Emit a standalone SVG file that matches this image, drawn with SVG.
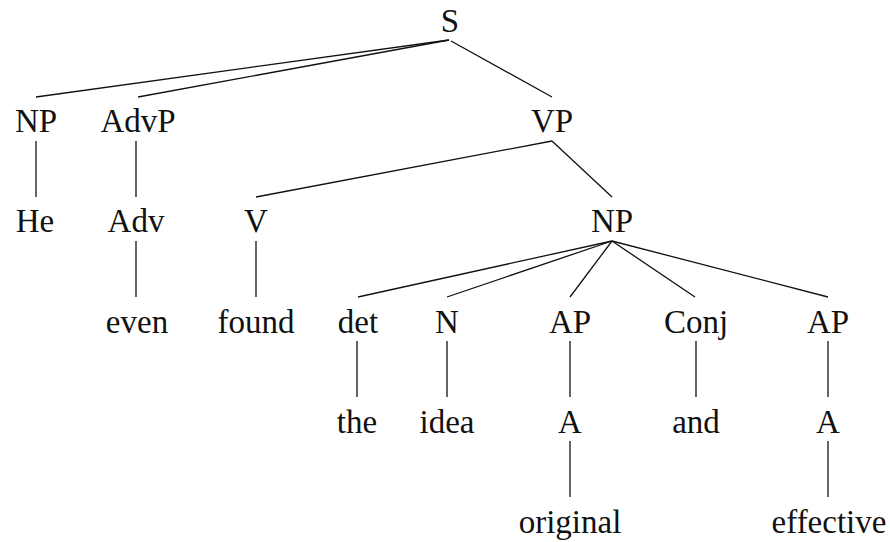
<svg xmlns="http://www.w3.org/2000/svg" width="890" height="542" viewBox="0 0 890 542">
<style>
.e line{stroke:#111;stroke-width:1.3;fill:none}
</style>
<rect width="890" height="542" fill="#fff"/>
<g class="e" id="connectors">
<line x1="449" y1="40" x2="36" y2="97"/>
<line x1="449" y1="40" x2="138" y2="97"/>
<line x1="451" y1="41" x2="552" y2="97"/>
<line x1="36" y1="141" x2="36" y2="197"/>
<line x1="136" y1="141" x2="136" y2="197"/>
<line x1="552" y1="141" x2="256" y2="197"/>
<line x1="552" y1="141" x2="612" y2="197"/>
<line x1="136" y1="241" x2="136" y2="297"/>
<line x1="256" y1="241" x2="256" y2="297"/>
<line x1="612" y1="241" x2="358" y2="297"/>
<line x1="612" y1="241" x2="447" y2="297"/>
<line x1="612" y1="241" x2="570" y2="297"/>
<line x1="612" y1="241" x2="695" y2="297"/>
<line x1="612" y1="241" x2="828" y2="297"/>
<line x1="357" y1="341" x2="357" y2="397"/>
<line x1="447" y1="341" x2="447" y2="397"/>
<line x1="570" y1="341" x2="570" y2="397"/>
<line x1="696" y1="341" x2="696" y2="397"/>
<line x1="828" y1="341" x2="828" y2="397"/>
<line x1="570" y1="441" x2="570" y2="497"/>
<line x1="828" y1="441" x2="828" y2="497"/>
</g>
<g id="n-S"><text x="450" y="32" font-family="Liberation Serif" font-size="33" fill="#111" text-anchor="middle">S</text></g>
<g id="n-NP1"><text x="36" y="132" font-family="Liberation Serif" font-size="33" fill="#111" text-anchor="middle">NP</text></g>
<g id="n-AdvP"><text x="138" y="132" font-family="Liberation Serif" font-size="33" fill="#111" text-anchor="middle">AdvP</text></g>
<g id="n-VP"><text x="552" y="132" font-family="Liberation Serif" font-size="33" fill="#111" text-anchor="middle">VP</text></g>
<g id="n-He"><text x="35" y="232" font-family="Liberation Serif" font-size="33" fill="#111" text-anchor="middle">He</text></g>
<g id="n-Adv"><text x="136" y="232" font-family="Liberation Serif" font-size="33" fill="#111" text-anchor="middle">Adv</text></g>
<g id="n-V"><text x="256" y="232" font-family="Liberation Serif" font-size="33" fill="#111" text-anchor="middle">V</text></g>
<g id="n-NP2"><text x="612" y="232" font-family="Liberation Serif" font-size="33" fill="#111" text-anchor="middle">NP</text></g>
<g id="n-even"><text x="137" y="333" font-family="Liberation Serif" font-size="33" fill="#111" text-anchor="middle">even</text></g>
<g id="n-found"><text x="256" y="333" font-family="Liberation Serif" font-size="33" fill="#111" text-anchor="middle">found</text></g>
<g id="n-det"><text x="358" y="333" font-family="Liberation Serif" font-size="33" fill="#111" text-anchor="middle">det</text></g>
<g id="n-N"><text x="447" y="333" font-family="Liberation Serif" font-size="33" fill="#111" text-anchor="middle">N</text></g>
<g id="n-AP1"><text x="570" y="333" font-family="Liberation Serif" font-size="33" fill="#111" text-anchor="middle">AP</text></g>
<g id="n-Conj"><text x="696" y="333" font-family="Liberation Serif" font-size="33" fill="#111" text-anchor="middle">Conj</text></g>
<g id="n-AP2"><text x="828" y="333" font-family="Liberation Serif" font-size="33" fill="#111" text-anchor="middle">AP</text></g>
<g id="n-the"><text x="357" y="433" font-family="Liberation Serif" font-size="33" fill="#111" text-anchor="middle">the</text></g>
<g id="n-idea"><text x="447" y="433" font-family="Liberation Serif" font-size="33" fill="#111" text-anchor="middle">idea</text></g>
<g id="n-A1"><text x="570" y="433" font-family="Liberation Serif" font-size="33" fill="#111" text-anchor="middle">A</text></g>
<g id="n-and"><text x="696" y="433" font-family="Liberation Serif" font-size="33" fill="#111" text-anchor="middle">and</text></g>
<g id="n-A2"><text x="828" y="433" font-family="Liberation Serif" font-size="33" fill="#111" text-anchor="middle">A</text></g>
<g id="n-original"><text x="570" y="533" font-family="Liberation Serif" font-size="33" fill="#111" text-anchor="middle">original</text></g>
<g id="n-effective"><text x="829" y="533" font-family="Liberation Serif" font-size="33" fill="#111" text-anchor="middle">effective</text></g>
</svg>
